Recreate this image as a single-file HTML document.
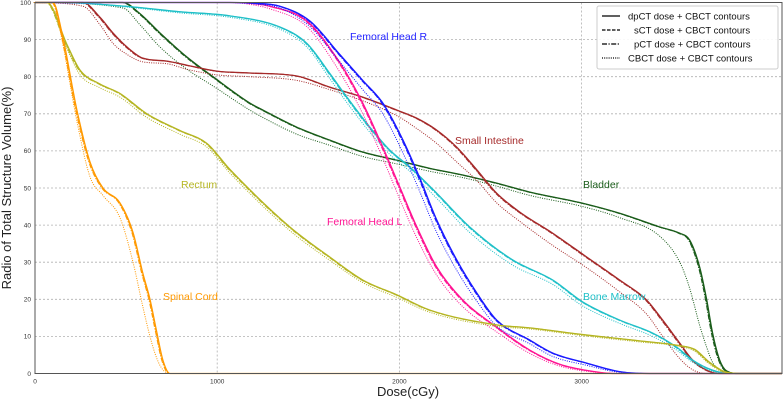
<!DOCTYPE html>
<html><head><meta charset="utf-8">
<style>
html,body{margin:0;padding:0;background:#fff;}
svg{display:block;font-family:"Liberation Sans","DejaVu Sans",sans-serif;}
</style></head>
<body>
<svg id="chart" width="784" height="402" viewBox="0 0 784 402" xmlns="http://www.w3.org/2000/svg">
<g id="grid"></g>
<g id="ticks"></g>
<g id="series"></g>
<rect x="35" y="2.5" width="747" height="371" fill="none" stroke="#555" stroke-width="1"/>
<text x="408" y="396" font-size="13" text-anchor="middle" fill="#222">Dose(cGy)</text>
<text transform="translate(11,188) rotate(-90)" font-size="13" text-anchor="middle" fill="#222">Radio of Total Structure Volume(%)</text>
<g id="labels" font-size="10.5">
<text x="350" y="40" fill="#2222ff">Femoral Head R</text>
<text x="455" y="144" fill="#a52a2a">Small Intestine</text>
<text x="583" y="188" fill="#1a5c1a">Bladder</text>
<text x="181" y="188" fill="#b5b522">Rectum</text>
<text x="327" y="225" fill="#ff1493">Femoral Head L</text>
<text x="583" y="300" fill="#20c0c8">Bone Marrow</text>
<text x="163" y="300" fill="#ff9900">Spinal Cord</text>
</g>
<g>
<rect x="597" y="6" width="181" height="63" rx="2" fill="#fff" fill-opacity="0.9" stroke="#ccc"/>
<g><line x1="602" y1="16" x2="620" y2="16" stroke="#000" stroke-width="1.2"/><text x="628" y="19.5" font-size="9.5" fill="#111">dpCT dose + CBCT contours</text></g>
<g><line x1="602" y1="30" x2="620" y2="30" stroke="#000" stroke-width="1.2" stroke-dasharray="3.5,1.5"/><text x="634" y="33.5" font-size="9.5" fill="#111">sCT dose + CBCT contours</text></g>
<g><line x1="602" y1="44" x2="620" y2="44" stroke="#000" stroke-width="1.2" stroke-dasharray="5,1.5,1.2,1.5"/><text x="634" y="47.5" font-size="9.5" fill="#111">pCT dose + CBCT contours</text></g>
<g><line x1="602" y1="58" x2="620" y2="58" stroke="#000" stroke-width="1.2" stroke-dasharray="1,1.2"/><text x="628" y="61.5" font-size="9.5" fill="#111">CBCT dose + CBCT contours</text></g>
</g>
</svg>
<script>
const xTicks=[0,1000,2000,3000];
const yTicks=[0,10,20,30,40,50,60,70,80,90,100];
const cordDose=[0,99,148,230,302,373,466,538,592,631,669,702,741,4100];
const cordVol=[100,100,91.8,71,57,50,46,38,27,20,11,3.6,0,0];
const cordCbct=[100,100,90,68,53,48,42,30,18,10,4,1,0,0];
const rectumDose=[0,66,176,247,357,466,614,795,944,1070,1399,1618,1799,1986,2167,2534,2716,3006,3319,3539,3621,3703,3785,3868,4100];
const rectumVol=[100,100,88.6,81.8,78,75.5,70,65.5,62,55,39.5,31.4,25.2,21.2,17.1,13.1,12.3,10.5,8.8,7.5,6.5,3,0.5,0,0];
const rectumCbct=[100,100,87.5,80.5,77,74.5,69,64.5,61,54,38.5,30.5,24.5,20.5,16.5,12.7,12,10.2,8.5,7.3,6,2.5,0.3,0,0];
const siDose=[0,263,357,428,505,592,724,834,998,1179,1437,1618,1799,1986,2096,2205,2315,2425,2534,2661,2842,3028,3209,3357,3445,3539,3610,3687,3758,4100];
const siVol=[100,100,96,91.8,88,85,84.2,83.1,81.5,81,80.2,77.2,74.5,71,68.8,65.6,61,54.9,48.6,43.5,37.8,31.4,25.2,19.8,14.4,8.2,3.6,0.9,0,0];
const siCbct=[100,99,94,89,86,84,83.5,82,80.5,80,79,76.5,73.5,69.5,66,62,57,52,46,41,34.5,28.5,22,16,10,4,1,0,0,0];
const bladderDose=[0,483,576,686,834,977,1179,1251,1437,1618,1799,1986,2167,2348,2534,2716,3006,3209,3429,3539,3593,3648,3687,3719,3758,3796,3868,4100];
const bladderVol=[100,100,97,91.8,85.3,80,72.9,71,66.4,62.9,59.7,57.5,55.3,53.5,51.3,48.9,45.9,43.2,39.5,37.8,36,28.7,19.8,10.9,3.6,0.7,0,0];
const bladderCbct=[100,98.5,94,88,82,77.5,71,69,64.5,61.5,58.5,56.5,54.5,52.8,50.5,48,45,42,37,30,23,13,7,3,1,0,0,0];
const marrowDose=[0,137,494,795,1070,1344,1492,1618,1712,1838,1948,2057,2205,2386,2622,2842,3006,3209,3390,3522,3610,3719,3813,4100];
const marrowVol=[100,100,99,97.5,96.4,93.4,89,80.9,74.5,66.4,60.2,55.7,48.6,39.5,30.6,25.2,19.3,14.4,10.9,7.1,3.6,0.9,0,0];
const marrowCbct=[100,100,98.8,97.2,96,92.8,88,79.5,73,65,59,54.5,47.2,38,29.2,24,18.2,13.5,10,6.3,3,0.6,0,0];
const fhrDose=[0,1070,1207,1344,1509,1673,1799,1909,2019,2112,2205,2315,2425,2534,2716,2842,3028,3209,3374,4100];
const fhrVol=[100,100,99.8,99,95,86,79,72.9,63,52.7,41.4,30.6,21.7,14.4,9,5.5,2.8,0.5,0,0];
const fhrCbct=[100,100,99.6,98.5,93.5,84,76.5,70,59.5,49,38,27.8,19.5,12.8,8,4.6,2.2,0.3,0,0];
const fhlDose=[0,1070,1179,1289,1492,1657,1799,1909,2002,2096,2205,2348,2534,2716,2880,3045,3182,4100];
const fhlVol=[100,100,99.8,99,95,85,72.9,61,50.3,39.5,28.7,19.8,12.5,6.3,2.5,0.7,0,0];
const fhlCbct=[100,100,99.5,98.3,93.5,82.5,70,58,47,36.5,26.5,18,11.2,5.4,2,0.5,0,0];

const X0=35,X1=782,Y0=373.5,Y1=2.5,DMAX=4100;
function xs(d){return X0+(d/DMAX)*(X1-X0);}
function ys(v){return Y0-(v/100)*(Y0-Y1);}
const NS="http://www.w3.org/2000/svg";
const grid=document.getElementById('grid'),ticks=document.getElementById('ticks'),series=document.getElementById('series');

xTicks.forEach(t=>{
  const l=document.createElementNS(NS,'line');
  
  
  l.setAttribute('x1',xs(t));l.setAttribute('x2',xs(t));l.setAttribute('y1',Y1);l.setAttribute('y2',Y0);
  l.setAttribute('stroke','#b0b0b0');l.setAttribute('stroke-width','0.8');l.setAttribute('stroke-dasharray','2,2');
  grid.appendChild(l);
  const tx=document.createElementNS(NS,'text');
  
  
  tx.setAttribute('x',xs(t));tx.setAttribute('y',Y0+10);tx.setAttribute('font-size','6.5');tx.setAttribute('text-anchor','middle');tx.setAttribute('fill','#333');
  tx.textContent=t;ticks.appendChild(tx);
});
yTicks.forEach(t=>{
  const l=document.createElementNS(NS,'line');
  
  
  l.setAttribute('x1',X0);l.setAttribute('x2',X1);l.setAttribute('y1',ys(t));l.setAttribute('y2',ys(t));
  l.setAttribute('stroke','#b0b0b0');l.setAttribute('stroke-width','0.8');l.setAttribute('stroke-dasharray','2,2');
  grid.appendChild(l);
  const tx=document.createElementNS(NS,'text');
  
  
  tx.setAttribute('x',X0-4);tx.setAttribute('y',ys(t)+2.3);tx.setAttribute('font-size','6.5');tx.setAttribute('text-anchor','end');tx.setAttribute('fill','#333');
  tx.textContent=t;ticks.appendChild(tx);
});

function monoPath(D,V,dx){
  const n=D.length,px=D.map(d=>xs(d)+dx),py=V.map(ys);
  const dl=[],m=[];
  for(let i=0;i<n-1;i++){const h=px[i+1]-px[i];dl.push(h===0?0:(py[i+1]-py[i])/h);}
  m[0]=dl[0];m[n-1]=dl[n-2];
  for(let i=1;i<n-1;i++){m[i]=(dl[i-1]*dl[i]<=0)?0:(dl[i-1]+dl[i])/2;}
  for(let i=0;i<n-1;i++){
    if(dl[i]===0){m[i]=0;m[i+1]=0;continue;}
    const a=m[i]/dl[i],b=m[i+1]/dl[i],s=a*a+b*b;
    if(s>9){const t=3/Math.sqrt(s);m[i]=t*a*dl[i];m[i+1]=t*b*dl[i];}
  }
  let p='M'+px[0].toFixed(2)+','+py[0].toFixed(2);
  for(let i=0;i<n-1;i++){
    const h=(px[i+1]-px[i])/3;
    p+=' C'+(px[i]+h).toFixed(2)+','+(py[i]+m[i]*h).toFixed(2)+' '+(px[i+1]-h).toFixed(2)+','+(py[i+1]-m[i+1]*h).toFixed(2)+' '+px[i+1].toFixed(2)+','+py[i+1].toFixed(2);
  }
  return p;
}
function drawLine(name,D,V,color,dash,dx,w){
  const p=document.createElementNS(NS,'path');
  
  
  p.setAttribute('d',monoPath(D,V,dx));
  p.setAttribute('fill','none');p.setAttribute('stroke',color);p.setAttribute('stroke-width',w);
  if(dash)p.setAttribute('stroke-dasharray',dash);
  series.appendChild(p);
}
function structure(key,D,V,C,color){
  drawLine(key+'-cbct-line',D,C,color,'1,1.3',0,1);
  drawLine(key+'-pct-line',D,V,color,'5,1.5,1.2,1.5',-1.2,1);
  drawLine(key+'-sct-line',D,V,color,'3.5,1.5',-0.6,1);
  drawLine(key+'-dpct-line',D,V,color,null,0,1.3);
}
structure('bladder',bladderDose,bladderVol,bladderCbct,'#1a5c1a');
structure('small-intestine',siDose,siVol,siCbct,'#a52a2a');
structure('bone-marrow',marrowDose,marrowVol,marrowCbct,'#20c0c8');
structure('femoral-head-l',fhlDose,fhlVol,fhlCbct,'#ff1493');
structure('femoral-head-r',fhrDose,fhrVol,fhrCbct,'#1a1aff');
structure('rectum',rectumDose,rectumVol,rectumCbct,'#b5b522');
structure('spinal-cord',cordDose,cordVol,cordCbct,'#ff9900');
</script>
</body></html>
